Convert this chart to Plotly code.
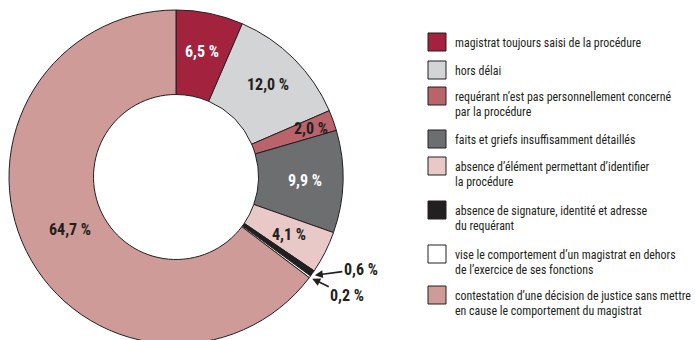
import math
import plotly.graph_objects as go

# Motifs d'irrecevabilité des plaintes (parts en %)
categories = [
    "magistrat toujours saisi de la procédure",
    "hors délai",
    "requérant n’est pas personnellement concerné<br>par la procédure",
    "faits et griefs insuffisamment détaillés",
    "absence d’élément permettant d’identifier<br>la procédure",
    "absence de signature, identité et adresse<br>du requérant",
    "vise le comportement d’un magistrat en dehors<br>de l’exercice de ses fonctions",
    "contestation d’une décision de justice sans mettre<br>en cause le comportement du magistrat",
]
shares = [6.5, 12.0, 2.0, 9.9, 4.1, 0.6, 0.2, 64.7]
colors = ["#A3233F", "#D3D4D6", "#B9636A", "#6D6E70", "#E9C9C8", "#231F20", "#FFFFFF", "#CF9B99"]

# --- styling / layout constants ---
W, H = 695, 344
CX, CY, R = 176, 177, 167          # donut centre and outer radius (px)
HOLE = 0.494
FONT = "Roboto Condensed, Open Sans Condensed, sans-serif"
INK = "#231F20"
label_colors = ["white", INK, INK, "white", INK, None, None, INK]
label_radius = [0.77, 0.78, 0.86, 0.77, 0.76, None, None, 0.71]
callout_offset = {5: (46, -6), 6: (35, 17)}
legend_tops = [33, 61, 87, 130, 157, 201, 245, 286]
BOX = 18
LEG_X = 428
TXT_X = 453
LINE = 15.5


def px(x, y):
    return x / W, 1 - y / H


def fmt(v):
    return f"{v:.1f}".replace(".", ",") + " %"


fig = go.Figure()
fig.add_trace(go.Pie(
    values=shares,
    labels=categories,
    sort=False,
    direction="clockwise",
    rotation=0,
    hole=HOLE,
    marker=dict(colors=colors, line=dict(color=INK, width=1)),
    textinfo="none",
    hoverinfo="label+percent",
    showlegend=False,
    domain=dict(x=[(CX - R) / W, (CX + R) / W], y=[1 - (CY + R) / H, 1 - (CY - R) / H]),
))

annotations = []
shapes = []
total = sum(shares)
cum = 0.0
for i, v in enumerate(shares):
    mid = math.radians((cum + v / 2) / total * 360)
    cum += v
    if label_radius[i] is not None:
        r = R * label_radius[i]
        x, y = px(CX + r * math.sin(mid), CY - r * math.cos(mid))
        annotations.append(dict(
            x=x, y=y, xref="paper", yref="paper", text=fmt(v), showarrow=False,
            xanchor="center", yanchor="middle",
            font=dict(family=FONT, size=16, color=label_colors[i], weight="bold"),
        ))
    else:
        r = R + 3
        x, y = px(CX + r * math.sin(mid), CY - r * math.cos(mid))
        ax, ay = callout_offset[i]
        annotations.append(dict(
            x=x, y=y, xref="paper", yref="paper", text=fmt(v), showarrow=True,
            xanchor="center", yanchor="middle",
            ax=ax, ay=ay, arrowhead=2, arrowsize=1, arrowwidth=1.6, arrowcolor=INK,
            standoff=0,
            font=dict(family=FONT, size=16, color=INK, weight="bold"),
        ))

# legend: coloured boxes with wrapped labels
for i, (cat, col) in enumerate(zip(categories, colors)):
    top = legend_tops[i]
    x0, y0 = px(LEG_X, top)
    x1, y1 = px(LEG_X + BOX, top + BOX)
    shapes.append(dict(type="rect", xref="paper", yref="paper", x0=x0, x1=x1, y0=y1, y1=y0,
                       fillcolor=col, line=dict(color=INK, width=1)))
    nlines = cat.count("<br>") + 1
    cy = top + BOX / 2 + 1 + (nlines - 1) * LINE / 2
    tx, ty = px(TXT_X, cy)
    annotations.append(dict(
        x=tx, y=ty, xref="paper", yref="paper", text=cat, showarrow=False,
        xanchor="left", yanchor="middle", align="left",
        font=dict(family=FONT, size=11.9, color=INK),
    ))

fig.update_layout(
    width=W, height=H,
    margin=dict(l=0, r=0, t=0, b=0),
    paper_bgcolor="white", plot_bgcolor="white",
    annotations=annotations, shapes=shapes,
)

fig.write_html(
    "out.html",
    config={"displayModeBar": False},
    post_script="document.documentElement.style.overflow='hidden';document.body.style.overflow='hidden';document.body.style.margin='0';",
)
